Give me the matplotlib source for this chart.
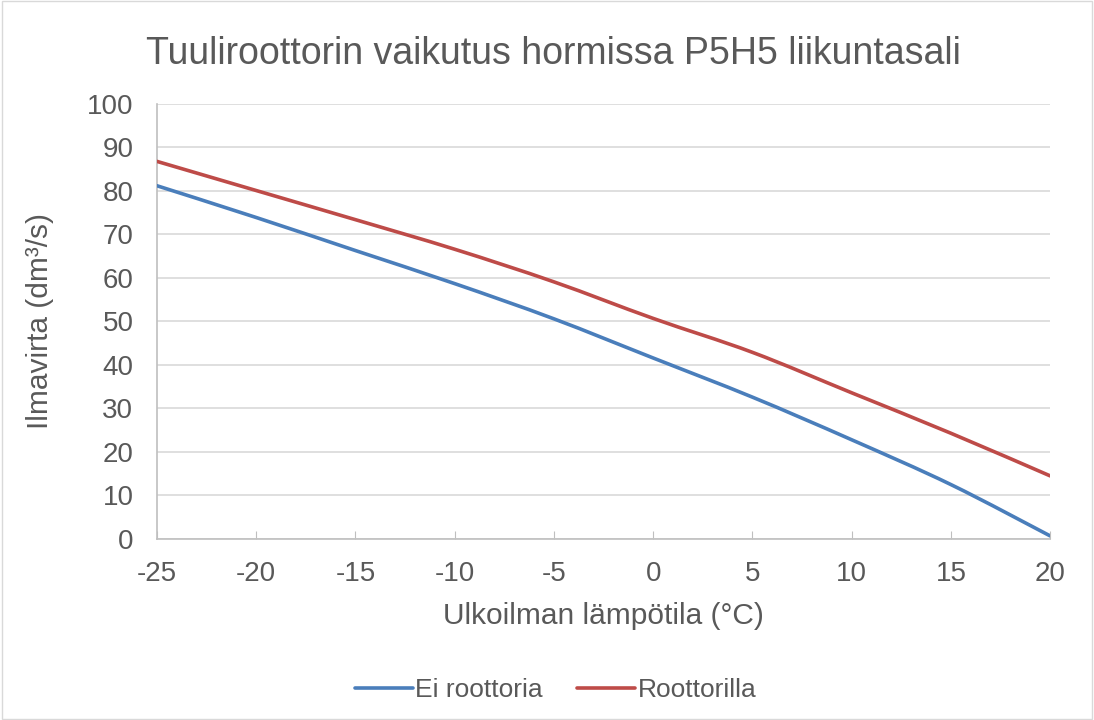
import matplotlib
matplotlib.use("Agg")
import matplotlib.pyplot as plt
from matplotlib.path import Path
from matplotlib.patches import PathPatch
from matplotlib.lines import Line2D

# Ulkoilman lämpötila (°C)
temps = [-25, -20, -15, -10, -5, 0, 5, 10, 15, 20]
ei_roottoria = [81.2, 73.9, 66.3, 58.7, 50.6, 41.6, 32.6, 22.8, 12.5, 0.7]
roottorilla = [86.8, 80.1, 73.4, 66.6, 59.1, 50.7, 42.9, 33.6, 24.3, 14.5]
y_ticks = list(range(0, 101, 10))

text_col = '#595959'
blue = '#4A7EBB'
red = '#BE4B48'
plt.rcParams['font.family'] = ['Liberation Sans', 'DejaVu Sans']
plt.rcParams['axes.unicode_minus'] = False


def smooth_path(xs, ys):
    # Excel-like smoothed line: cubic Bezier segments through the points
    verts = [(xs[0], ys[0])]
    codes = [Path.MOVETO]
    n = len(xs)
    for i in range(n - 1):
        x0, y0 = (xs[i - 1], ys[i - 1]) if i > 0 else (xs[i], ys[i])
        x1, y1 = xs[i], ys[i]
        x2, y2 = xs[i + 1], ys[i + 1]
        x3, y3 = (xs[i + 2], ys[i + 2]) if i + 2 < n else (x2, y2)
        c1 = (x1 + (x2 - x0) / 6, y1 + (y2 - y0) / 6)
        c2 = (x2 - (x3 - x1) / 6, y2 - (y3 - y1) / 6)
        verts += [c1, c2, (x2, y2)]
        codes += [Path.CURVE4] * 3
    return Path(verts, codes)


fig = plt.figure(figsize=(10.94, 7.2), dpi=100)
ax = fig.add_axes([0.1435, 0.2514, 0.8165, 0.6042])

for ys, col in [(ei_roottoria, blue), (roottorilla, red)]:
    ax.add_patch(PathPatch(smooth_path(temps, ys), fill=False, edgecolor=col,
                           lw=2.6, capstyle='round', zorder=3))

ax.set_xlim(-25, 20)
ax.set_ylim(0, 100)
ax.set_xticks(temps)
ax.set_yticks(y_ticks)
ax.grid(axis='y', color='#D9D9D9', lw=1.2)
ax.set_axisbelow(True)
for s in ['top', 'right']:
    ax.spines[s].set_visible(False)
for s in ['left', 'bottom']:
    ax.spines[s].set_color('#BFBFBF')
    ax.spines[s].set_linewidth(1.2)
ax.tick_params(axis='y', length=0, labelsize=20, labelcolor=text_col, pad=17)
ax.tick_params(axis='x', length=6, direction='in', color='#BFBFBF',
               labelsize=20, labelcolor=text_col, pad=16)

ax.set_xlabel('Ulkoilman lämpötila (°C)', fontsize=21.5, color=text_col, labelpad=11)
ax.set_ylabel('Ilmavirta (dm³/s)', fontsize=21.5, color=text_col, labelpad=24)
fig.text(0.506, 0.925, 'Tuuliroottorin vaikutus hormissa P5H5 liikuntasali',
         ha='center', va='center', fontsize=27, color=text_col)

handles = [Line2D([], [], color=blue, lw=2.6, solid_capstyle='round'),
           Line2D([], [], color=red, lw=2.6, solid_capstyle='round')]
fig.legend(handles, ['Ei roottoria', 'Roottorilla'], loc='center',
           bbox_to_anchor=(0.508, 0.041), ncol=2, frameon=False,
           fontsize=19, labelcolor=text_col, handlelength=2.2, handletextpad=0.1,
           columnspacing=1.3)

fig.patches.append(plt.Rectangle((0.002, 0.002), 0.996, 0.996, transform=fig.transFigure,
                                 fill=False, edgecolor='#D9D9D9', lw=1))

fig.savefig('out.png', dpi=100)
